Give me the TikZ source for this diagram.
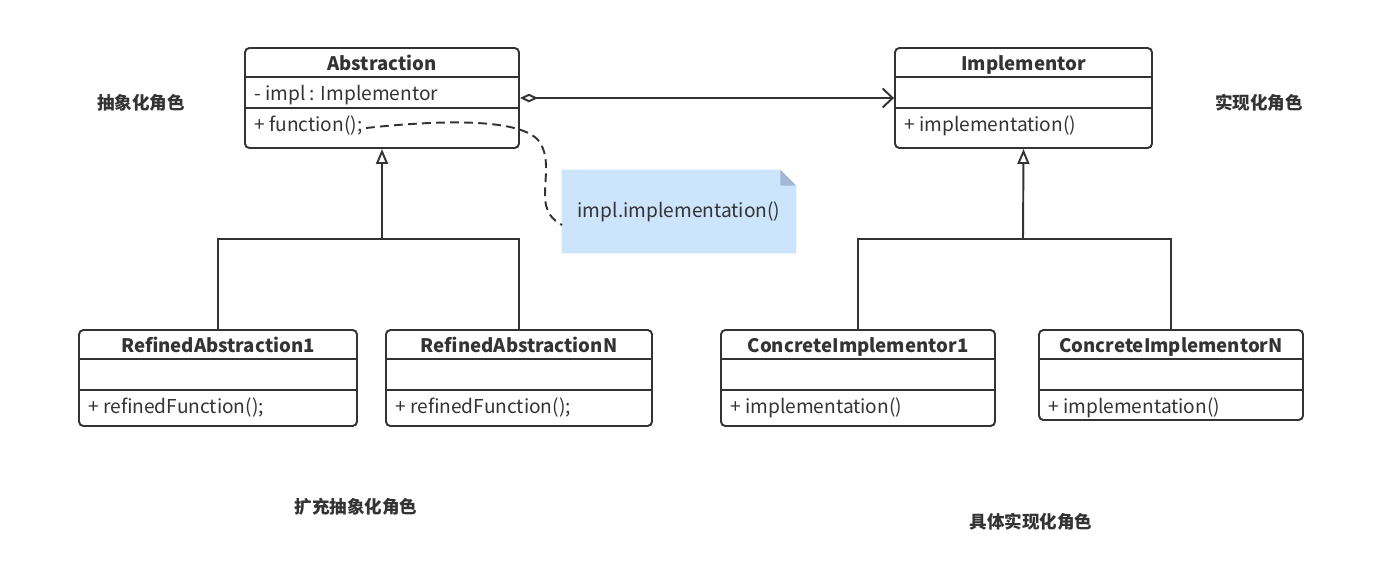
\documentclass[tikz,border=0pt]{standalone}
\usepackage{fontspec}
\setmainfont{Noto Sans CJK SC}
\usetikzlibrary{arrows.meta,fit,backgrounds}
\definecolor{ink}{HTML}{333333}
\definecolor{notefill}{HTML}{CCE5FC}
\definecolor{notefold}{HTML}{A2B8D4}
\tikzset{
  classbox/.style={draw=ink, line width=1.1pt, rounded corners=2.5pt, inner sep=0pt},
  sepline/.style={draw=ink, line width=1.1pt},
  title/.style={font=\fontsize{10.6}{12}\selectfont\bfseries, text=ink, inner sep=0pt, anchor=base},
  member/.style={font=\fontsize{10.9}{12}\selectfont, text=ink, inner sep=0pt, anchor=base west},
  role/.style={font=\fontsize{10}{12}\selectfont\bfseries, text=ink, inner sep=0pt},
  conn/.style={draw=ink, line width=1.1pt},
  gentip/.style={-{Triangle[open,length=0.3cm,width=0.24cm,line width=1.1pt]}},
  notebox/.style={minimum width=4.68cm, minimum height=1.66cm, inner sep=0pt, text=ink, font=\fontsize{10.9}{12}\selectfont},
}
% #1 name, #2 left, #3 top, #4 right, #5 bottom, #6 title, #7 attr, #8 method
\newcommand\umlclass[8]{%
  \node[classbox, fit={(#2,#3) (#4,#5)}] (#1) {};
  \draw[sepline] (#2,{#3+29}) -- (#4,{#3+29});
  \draw[sepline] (#2,{#3+60}) -- (#4,{#3+60});
  \node[title] (#1-t) at ({(#2+#4)/2},{#3+22}) {#6};
  \node[member] (#1-a) at ({#2+9},{#3+52}) {#7};
  \node[member] (#1-m) at ({#2+9},{#3+83}) {#8};
}
\begin{document}
\begin{tikzpicture}[x=0.02cm,y=-0.02cm]
\useasboundingbox (0,0) rectangle (1386,576);
\umlclass{abs}{245}{48}{519}{148}{Abstraction}{- impl : Implementor}{+ function();}
\umlclass{impl}{895}{48}{1152}{148}{Implementor}{}{+ implementation()}
\umlclass{ra1}{79}{330}{357}{426}{RefinedAbstraction1}{}{+ refinedFunction();}
\umlclass{ran}{386}{330}{652}{426}{RefinedAbstractionN}{}{+ refinedFunction();}
\umlclass{ci1}{721}{330}{995}{426}{ConcreteImplementor1}{}{+ implementation()}
\umlclass{cin}{1039}{330}{1303}{420}{ConcreteImplementorN}{}{+ implementation()}

% aggregation
\draw[conn, {Diamond[open,length=0.36cm,width=0.17cm,line width=1.1pt]}-{Straight Barb[length=0.2cm,width=0.38cm,line width=1.1pt]}] (abs.east) -- (impl.west);

% generalizations
\coordinate (ja) at (382,239);
\coordinate (ji) at (1023,239);
\draw[conn] (ra1.north) |- (ja) -| (ran.north);
\draw[conn, gentip] (ja) -- (abs.south);
\draw[conn] (ci1.north) |- (ji) -| (cin.north);
\draw[conn, gentip] (ji) -- (impl.south);

% note
\node[notebox] (note) at (679,211.5) {impl.implementation()};
\begin{scope}[on background layer]
\fill[notefill] (note.south west) -- (note.north west) -- ([xshift=-0.32cm]note.north east) -- ([yshift=-0.32cm]note.north east) -- (note.south east) -- cycle;
\fill[notefold] ([xshift=-0.32cm]note.north east) -- ([xshift=-0.32cm,yshift=-0.32cm]note.north east) -- ([yshift=-0.32cm]note.north east) -- cycle;
\end{scope}
\coordinate (fn) at (366,128);
\coordinate (ne) at (562,225);
\draw[draw=ink, line width=1.1pt, dash pattern=on 5pt off 3pt] (fn) .. controls (440,120) and (518,118) .. (538,140) .. controls (550,155) and (545,175) .. (545,195) .. controls (545,213) and (553,220) .. (ne);

% role labels
\node[role] (r1) at (141,103) {抽象化角色};
\node[role] (r2) at (1259,103) {实现化角色};
\node[role] (r3) at (356,507) {扩充抽象化角色};
\node[role] (r4) at (1031,522) {具体实现化角色};
\end{tikzpicture}
\end{document}
